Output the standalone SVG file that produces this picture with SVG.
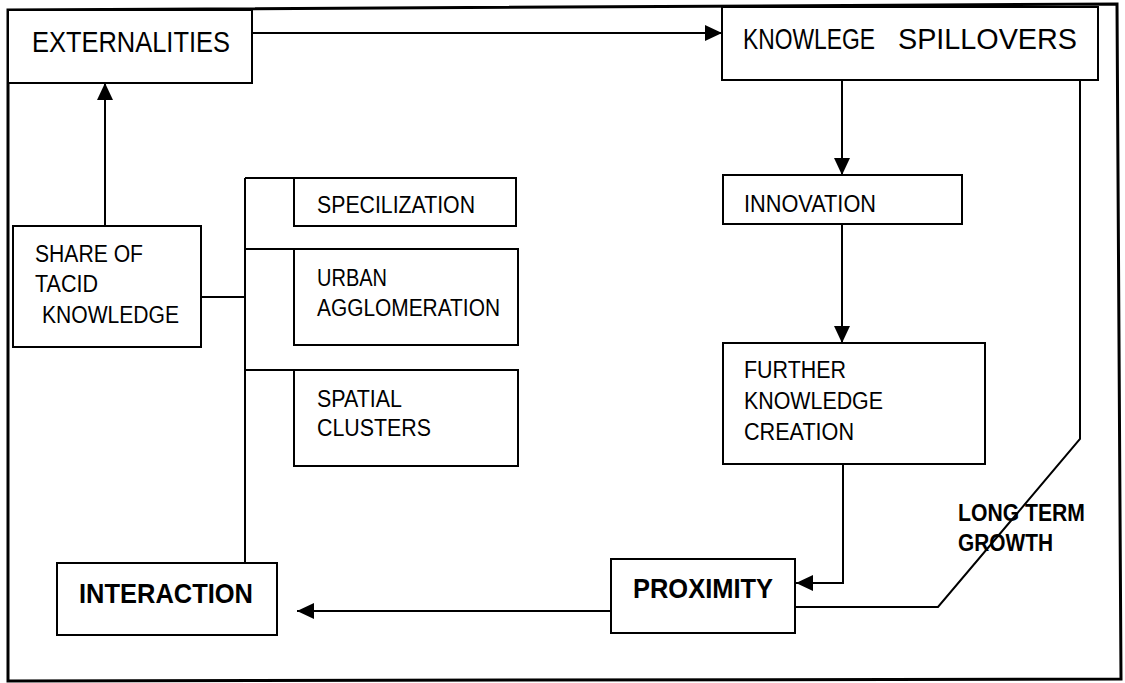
<svg xmlns="http://www.w3.org/2000/svg" width="1125" height="683" viewBox="0 0 1125 683">
<style>
.box{fill:#fff;stroke:#000;stroke-width:2}
.ln{fill:none;stroke:#000;stroke-width:2}
.t{font-family:"Liberation Sans",Arial,sans-serif;font-size:23px;fill:#000}
.big{font-size:29px}
.b{font-weight:bold;font-size:28px}
.lb{font-weight:bold;font-size:24px}
</style>
<defs>
<marker id="ah" markerUnits="userSpaceOnUse" markerWidth="18" markerHeight="16" refX="17" refY="8" orient="auto">
<path d="M0,0 L17,8 L0,16 z" fill="#000"/>
</marker>
</defs>
<rect width="1125" height="683" fill="#fff"/>
<polygon points="8,10 1117,4 1121,679 8,681" fill="none" stroke="#000" stroke-width="3"/>
<g id="connectors">
<line class="ln" x1="252" y1="33" x2="722" y2="33" marker-end="url(#ah)"/>
<line class="ln" x1="105" y1="226" x2="105" y2="83" marker-end="url(#ah)"/>
<line class="ln" x1="842" y1="80" x2="842" y2="175" marker-end="url(#ah)"/>
<line class="ln" x1="842" y1="224" x2="842" y2="343" marker-end="url(#ah)"/>
<polyline class="ln" points="843,464 843,583 796,583" marker-end="url(#ah)"/>
<polyline class="ln" points="1080,80 1080,439 938,607 795,607"/>
<line class="ln" x1="611" y1="611" x2="297" y2="611" marker-end="url(#ah)"/>
<line class="ln" x1="245" y1="178" x2="245" y2="563"/>
<line class="ln" x1="245" y1="178" x2="294" y2="178"/>
<line class="ln" x1="245" y1="249" x2="294" y2="249"/>
<line class="ln" x1="245" y1="370" x2="294" y2="370"/>
<line class="ln" x1="201" y1="297" x2="245" y2="297"/>
</g>
<g id="externalities">
<rect class="box" x="8" y="10" width="244" height="73"/>
<text class="t big" x="32" y="52" textLength="198" lengthAdjust="spacingAndGlyphs">EXTERNALITIES</text>
</g>
<g id="knowlege-spillovers">
<rect class="box" x="722" y="7" width="376" height="73"/>
<text class="t big" y="49"><tspan x="743" textLength="132" lengthAdjust="spacingAndGlyphs">KNOWLEGE</tspan><tspan x="898" textLength="179" lengthAdjust="spacingAndGlyphs">SPILLOVERS</tspan></text>
</g>
<g id="share-tacid">
<rect class="box" x="13" y="226" width="188" height="121"/>
<text class="t" x="35" y="262" textLength="108" lengthAdjust="spacingAndGlyphs">SHARE OF</text>
<text class="t" x="35" y="292" textLength="63" lengthAdjust="spacingAndGlyphs">TACID</text>
<text class="t" x="42" y="323" textLength="137" lengthAdjust="spacingAndGlyphs">KNOWLEDGE</text>
</g>
<g id="specilization">
<rect class="box" x="294" y="178" width="222" height="48"/>
<text class="t" x="317" y="213" textLength="158" lengthAdjust="spacingAndGlyphs">SPECILIZATION</text>
</g>
<g id="urban">
<rect class="box" x="294" y="249" width="224" height="96"/>
<text class="t" x="317" y="286" textLength="70" lengthAdjust="spacingAndGlyphs">URBAN</text>
<text class="t" x="317" y="316" textLength="183" lengthAdjust="spacingAndGlyphs">AGGLOMERATION</text>
</g>
<g id="spatial">
<rect class="box" x="294" y="370" width="224" height="96"/>
<text class="t" x="317" y="407" textLength="85" lengthAdjust="spacingAndGlyphs">SPATIAL</text>
<text class="t" x="317" y="436" textLength="114" lengthAdjust="spacingAndGlyphs">CLUSTERS</text>
</g>
<g id="innovation">
<rect class="box" x="723" y="175" width="239" height="49"/>
<text class="t" x="744" y="212" textLength="132" lengthAdjust="spacingAndGlyphs">INNOVATION</text>
</g>
<g id="further">
<rect class="box" x="723" y="343" width="262" height="121"/>
<text class="t" x="744" y="378" textLength="102" lengthAdjust="spacingAndGlyphs">FURTHER</text>
<text class="t" x="744" y="409" textLength="139" lengthAdjust="spacingAndGlyphs">KNOWLEDGE</text>
<text class="t" x="744" y="440" textLength="110" lengthAdjust="spacingAndGlyphs">CREATION</text>
</g>
<g id="proximity">
<rect class="box" x="611" y="559" width="184" height="74"/>
<text class="t b" x="633" y="598" textLength="140" lengthAdjust="spacingAndGlyphs">PROXIMITY</text>
</g>
<g id="interaction">
<rect class="box" x="57" y="563" width="220" height="72"/>
<text class="t b" x="79" y="603" textLength="174" lengthAdjust="spacingAndGlyphs">INTERACTION</text>
</g>
<g id="long-term-growth">
<text class="t lb" x="958" y="521" textLength="127" lengthAdjust="spacingAndGlyphs">LONG TERM</text>
<text class="t lb" x="958" y="551" textLength="95" lengthAdjust="spacingAndGlyphs">GROWTH</text>
</g>
</svg>
